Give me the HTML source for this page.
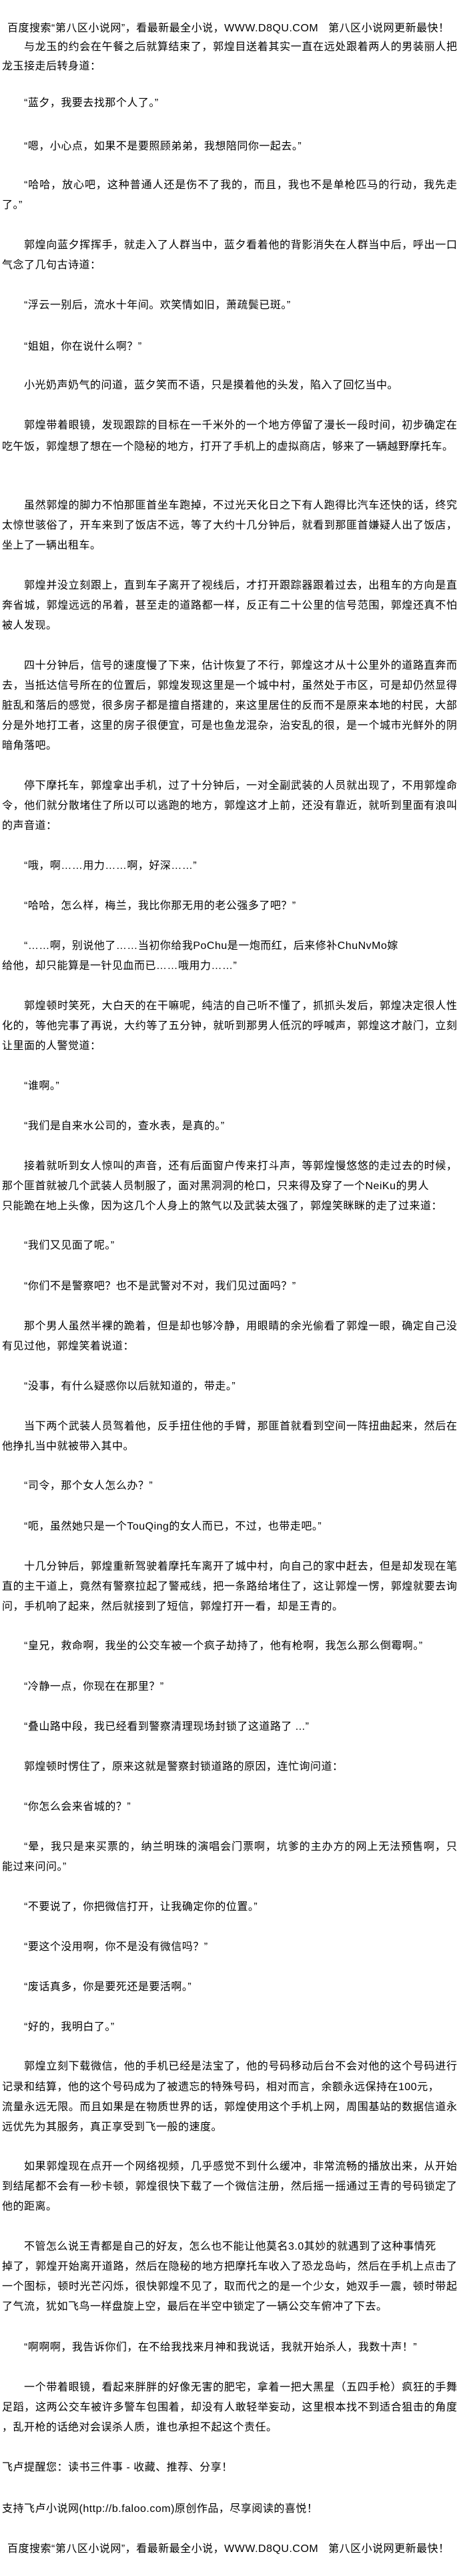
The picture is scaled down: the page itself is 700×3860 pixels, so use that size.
<!DOCTYPE html>
<html><head><meta charset="utf-8">
<style>
html,body{margin:0;padding:0;background:#fff;}
body{width:700px;height:3860px;position:relative;overflow:hidden;}
.l{position:absolute;height:30px;line-height:30px;font-size:16px;color:#000;white-space:nowrap;font-family:"Liberation Sans","Noto Sans CJK SC",sans-serif;letter-spacing:0.5px;}
.i{left:36px;width:649px;}
.n{left:3px;width:682px;}
.h{left:11px;}
.f{text-align:justify;text-align-last:justify;letter-spacing:0;}
</style></head><body>
<div class="l h" style="top:28px">百度搜索“第八区小说网”，看最新最全小说，WWW.D8QU.COM&nbsp;&nbsp;&nbsp;第八区小说网更新最快！</div>
<div class="l i f" style="top:56px">与龙玉的约会在午餐之后就算结束了，郭煌目送着其实一直在远处跟着两人的男装丽人把</div>
<div class="l n" style="top:85px">龙玉接走后转身道：</div>
<div class="l i" style="top:140px">“蓝夕，我要去找那个人了。”</div>
<div class="l i" style="top:205px">“嗯，小心点，如果不是要照顾弟弟，我想陪同你一起去。”</div>
<div class="l i f" style="top:263px">“哈哈，放心吧，这种普通人还是伤不了我的，而且，我也不是单枪匹马的行动，我先走</div>
<div class="l n" style="top:293px">了。”</div>
<div class="l i f" style="top:353px">郭煌向蓝夕挥挥手，就走入了人群当中，蓝夕看着他的背影消失在人群当中后，呼出一口</div>
<div class="l n" style="top:383px">气念了几句古诗道：</div>
<div class="l i" style="top:443px">“浮云一别后，流水十年间。欢笑情如旧，萧疏鬓已斑。”</div>
<div class="l i" style="top:505px">“姐姐，你在说什么啊？”</div>
<div class="l i" style="top:563px">小光奶声奶气的问道，蓝夕笑而不语，只是摸着他的头发，陷入了回忆当中。</div>
<div class="l i f" style="top:623px">郭煌带着眼镜，发现跟踪的目标在一千米外的一个地方停留了漫长一段时间，初步确定在</div>
<div class="l n" style="top:655px">吃午饭，郭煌想了想在一个隐秘的地方，打开了手机上的虚拟商店，够来了一辆越野摩托车。</div>
<div class="l i f" style="top:743px">虽然郭煌的脚力不怕那匪首坐车跑掉，不过光天化日之下有人跑得比汽车还快的话，终究</div>
<div class="l n f" style="top:773px">太惊世骇俗了，开车来到了饭店不远，等了大约十几分钟后，就看到那匪首嫌疑人出了饭店，</div>
<div class="l n" style="top:803px">坐上了一辆出租车。</div>
<div class="l i f" style="top:863px">郭煌并没立刻跟上，直到车子离开了视线后，才打开跟踪器跟着过去，出租车的方向是直</div>
<div class="l n f" style="top:893px">奔省城，郭煌远远的吊着，甚至走的道路都一样，反正有二十公里的信号范围，郭煌还真不怕</div>
<div class="l n" style="top:923px">被人发现。</div>
<div class="l i f" style="top:983px">四十分钟后，信号的速度慢了下来，估计恢复了不行，郭煌这才从十公里外的道路直奔而</div>
<div class="l n f" style="top:1013px">去，当抵达信号所在的位置后，郭煌发现这里是一个城中村，虽然处于市区，可是却仍然显得</div>
<div class="l n f" style="top:1043px">脏乱和落后的感觉，很多房子都是擅自搭建的，来这里居住的反而不是原来本地的村民，大部</div>
<div class="l n f" style="top:1073px">分是外地打工者，这里的房子很便宜，可是也鱼龙混杂，治安乱的很，是一个城市光鲜外的阴</div>
<div class="l n" style="top:1103px">暗角落吧。</div>
<div class="l i f" style="top:1163px">停下摩托车，郭煌拿出手机，过了十分钟后，一对全副武装的人员就出现了，不用郭煌命</div>
<div class="l n f" style="top:1193px">令，他们就分散堵住了所以可以逃跑的地方，郭煌这才上前，还没有靠近，就听到里面有浪叫</div>
<div class="l n" style="top:1223px">的声音道：</div>
<div class="l i" style="top:1283px">“哦，啊……用力……啊，好深……”</div>
<div class="l i" style="top:1343px">“哈哈，怎么样，梅兰，我比你那无用的老公强多了吧？”</div>
<div class="l i" style="top:1403px">“……啊，别说他了……当初你给我PoChu是一炮而红，后来修补ChuNvMo嫁</div>
<div class="l n" style="top:1433px">给他，却只能算是一针见血而已……哦用力……”</div>
<div class="l i f" style="top:1493px">郭煌顿时笑死，大白天的在干嘛呢，纯洁的自己听不懂了，抓抓头发后，郭煌决定很人性</div>
<div class="l n f" style="top:1523px">化的，等他完事了再说，大约等了五分钟，就听到那男人低沉的呼喊声，郭煌这才敲门，立刻</div>
<div class="l n" style="top:1553px">让里面的人警觉道：</div>
<div class="l i" style="top:1613px">“谁啊。”</div>
<div class="l i" style="top:1673px">“我们是自来水公司的，查水表，是真的。”</div>
<div class="l i f" style="top:1733px">接着就听到女人惊叫的声音，还有后面窗户传来打斗声，等郭煌慢悠悠的走过去的时候，</div>
<div class="l n" style="top:1763px">那个匪首就被几个武装人员制服了，面对黑洞洞的枪口，只来得及穿了一个NeiKu的男人</div>
<div class="l n" style="top:1793px">只能跪在地上头像，因为这几个人身上的煞气以及武装太强了，郭煌笑眯眯的走了过来道：</div>
<div class="l i" style="top:1852px">“我们又见面了呢。”</div>
<div class="l i" style="top:1913px">“你们不是警察吧？也不是武警对不对，我们见过面吗？”</div>
<div class="l i f" style="top:1973px">那个男人虽然半裸的跪着，但是却也够冷静，用眼睛的余光偷看了郭煌一眼，确定自己没</div>
<div class="l n" style="top:2003px">有见过他，郭煌笑着说道：</div>
<div class="l i" style="top:2063px">“没事，有什么疑惑你以后就知道的，带走。”</div>
<div class="l i f" style="top:2123px">当下两个武装人员驾着他，反手扭住他的手臂，那匪首就看到空间一阵扭曲起来，然后在</div>
<div class="l n" style="top:2153px">他挣扎当中就被带入其中。</div>
<div class="l i" style="top:2212px">“司令，那个女人怎么办？”</div>
<div class="l i" style="top:2273px">“呃，虽然她只是一个TouQing的女人而已，不过，也带走吧。”</div>
<div class="l i f" style="top:2333px">十几分钟后，郭煌重新驾驶着摩托车离开了城中村，向自己的家中赶去，但是却发现在笔</div>
<div class="l n f" style="top:2363px">直的主干道上，竟然有警察拉起了警戒线，把一条路给堵住了，这让郭煌一愣，郭煌就要去询</div>
<div class="l n" style="top:2393px">问，手机响了起来，然后就接到了短信，郭煌打开一看，却是王青的。</div>
<div class="l i" style="top:2452px">“皇兄，救命啊，我坐的公交车被一个疯子劫持了，他有枪啊，我怎么那么倒霉啊。”</div>
<div class="l i" style="top:2513px">“冷静一点，你现在在那里？”</div>
<div class="l i" style="top:2573px">“叠山路中段，我已经看到警察清理现场封锁了这道路了 ...”</div>
<div class="l i" style="top:2633px">郭煌顿时愣住了，原来这就是警察封锁道路的原因，连忙询问道：</div>
<div class="l i" style="top:2693px">“你怎么会来省城的？”</div>
<div class="l i f" style="top:2753px">“晕，我只是来买票的，纳兰明珠的演唱会门票啊，坑爹的主办方的网上无法预售啊，只</div>
<div class="l n" style="top:2783px">能过来问问。”</div>
<div class="l i" style="top:2843px">“不要说了，你把微信打开，让我确定你的位置。”</div>
<div class="l i" style="top:2903px">“要这个没用啊，你不是没有微信吗？”</div>
<div class="l i" style="top:2963px">“废话真多，你是要死还是要活啊。”</div>
<div class="l i" style="top:3023px">“好的，我明白了。”</div>
<div class="l i f" style="top:3082px">郭煌立刻下载微信，他的手机已经是法宝了，他的号码移动后台不会对他的这个号码进行</div>
<div class="l n" style="top:3113px">记录和结算，他的这个号码成为了被遗忘的特殊号码，相对而言，余额永远保持在100元，</div>
<div class="l n f" style="top:3143px">流量永远无限。而且如果是在物质世界的话，郭煌使用这个手机上网，周围基站的数据信道永</div>
<div class="l n" style="top:3173px">远优先为其服务，真正享受到飞一般的速度。</div>
<div class="l i f" style="top:3232px">如果郭煌现在点开一个网络视频，几乎感觉不到什么缓冲，非常流畅的播放出来，从开始</div>
<div class="l n f" style="top:3262px">到结尾都不会有一秒卡顿，郭煌很快下载了一个微信注册，然后摇一摇通过王青的号码锁定了</div>
<div class="l n" style="top:3292px">他的距离。</div>
<div class="l i" style="top:3352px">不管怎么说王青都是自己的好友，怎么也不能让他莫名3.0其妙的就遇到了这种事情死</div>
<div class="l n f" style="top:3382px">掉了，郭煌开始离开道路，然后在隐秘的地方把摩托车收入了恐龙岛屿，然后在手机上点击了</div>
<div class="l n f" style="top:3412px">一个图标，顿时光芒闪烁，很快郭煌不见了，取而代之的是一个少女，她双手一震，顿时带起</div>
<div class="l n" style="top:3442px">了气流，犹如飞鸟一样盘旋上空，最后在半空中锁定了一辆公交车俯冲了下去。</div>
<div class="l i" style="top:3503px">“啊啊啊，我告诉你们，在不给我找来月神和我说话，我就开始杀人，我数十声！”</div>
<div class="l i f" style="top:3563px">一个带着眼镜，看起来胖胖的好像无害的肥宅，拿着一把大黑星（五四手枪）疯狂的手舞</div>
<div class="l n f" style="top:3593px">足蹈，这两公交车被许多警车包围着，却没有人敢轻举妄动，这里根本找不到适合狙击的角度</div>
<div class="l n" style="top:3623px">，乱开枪的话绝对会误杀人质，谁也承担不起这个责任。</div>
<div class="l n" style="top:3683px">飞卢提醒您：读书三件事 - 收藏、推荐、分享！</div>
<div class="l n" style="top:3745px">支持飞卢小说网(http://b.faloo.com)原创作品，尽享阅读的喜悦！</div>
<div class="l h" style="top:3805px">百度搜索“第八区小说网”，看最新最全小说，WWW.D8QU.COM&nbsp;&nbsp;&nbsp;第八区小说网更新最快！</div>
</body></html>
